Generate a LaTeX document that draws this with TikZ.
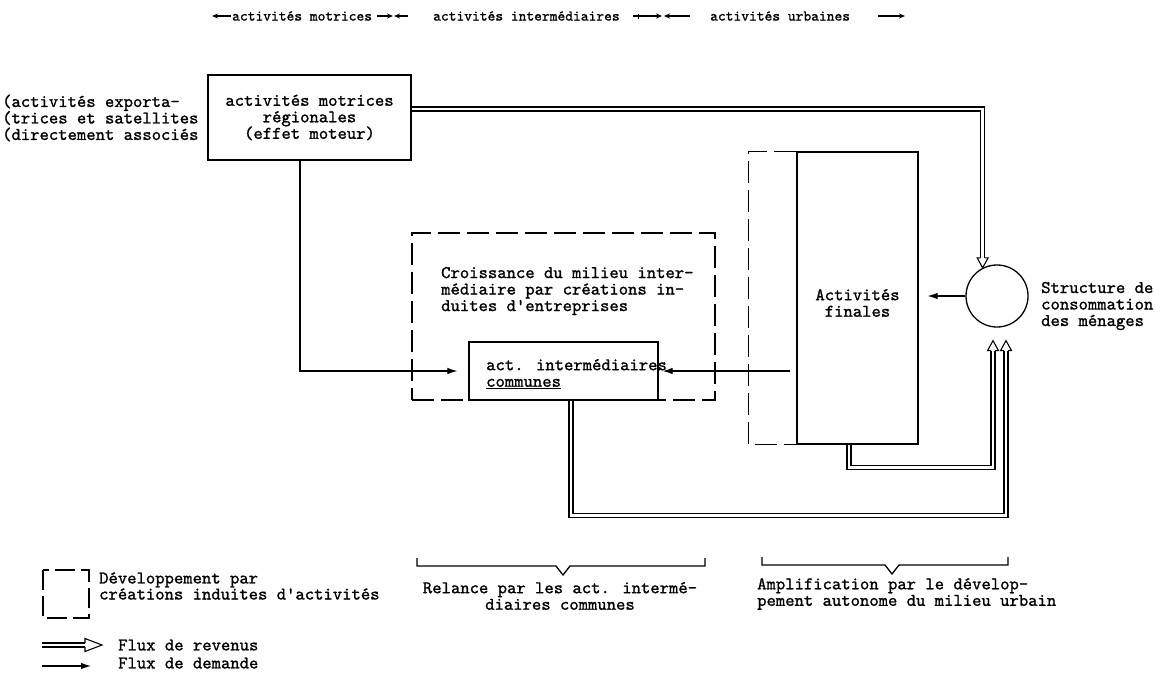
\documentclass[tikz,border=0pt]{standalone}
\usepackage{fontspec}
\usetikzlibrary{arrows.meta,calc}
\newfontfamily\twfont{lmmono10-regular.otf}[FakeBold=1.2]
\newcommand\bodyfont{\twfont\fontsize{17.8}{16.5}\selectfont}
\newcommand\legfont{\twfont\fontsize{17.8}{14}\selectfont}
\newcommand\hdrfont{\twfont\fontsize{14.8}{15}\selectfont}
% open arrow head for revenue (double) flows: #1 tip, #2 angle, #3 length, #4 half width
\newcommand\revhead[4]{%
  \draw[line width=1.1pt, fill=white, shift={#1}, rotate=#2]
    (-#3,2.0) -- (-#3,#4) -- (0,0) -- (-#3,-#4) -- (-#3,-2.0);}
\tikzset{
  txt/.style={inner sep=0pt, font=\bodyfont},
  hdr/.style={inner sep=0pt, font=\hdrfont},
  box/.style={draw, line width=1.3pt, inner sep=0pt},
  dbox/.style={draw, line width=1.2pt, dash pattern=on 22pt off 7pt},
  rev/.style={draw, double, double distance=2.8pt, line width=1.2pt},
  dem/.style={draw, line width=1.1pt, -{Latex[length=10pt,width=6.5pt]}},
  harr/.style={draw, line width=1.1pt, -{Stealth[length=6pt,width=5pt]}},
  brk/.style={draw, line width=1.3pt},
}
\begin{document}
\begin{tikzpicture}[x=1pt,y=-1pt]
\useasboundingbox (0,0) rectangle (1155,677);

% header
\node[hdr, anchor=west] (h1) at (232,16) {activités motrices};
\node[hdr, anchor=west] (h2) at (433,16) {activités intermédiaires};
\node[hdr, anchor=west] (h3) at (710,16) {activités urbaines};
\draw[harr] (231,16) -- (212,16);
\draw[harr] (377,16) -- (393,16);
\draw[harr] (408,16) -- (394,16);
\draw[harr] (633,16) -- (662,16);
\draw[line width=0.9pt] (638,14) -- (638,19);
\draw[harr] (690,16) -- (664,16);
\draw[harr] (878,16) -- (905,16);

% left text and motor box
\node[txt, anchor=west, align=left] (exp) at (2,118)
  {(activités exporta-\\(trices et satellites\\(directement associés};
\node[box, minimum width=203pt, minimum height=85pt, align=center, font=\bodyfont]
  (motr) at (309.5,117.5) {activités motrices\\régionales\\(effet moteur)};

% intermediate growth (dashed) and intermediate activities box
\node[dbox, minimum width=303pt, minimum height=167pt] (crois) at (563.5,316.5) {};
\node[txt, anchor=west, align=left] (croistxt) at (441,291)
  {Croissance du milieu inter-\\médiaire par créations in-\\duites d'entreprises};
\node[box, minimum width=189pt, minimum height=58pt] (inter) at (563.5,371) {};
\node[txt, anchor=west, align=left] (intertxt) at (486,374)
  {act. intermédiaires\\\underline{communes}};

% final activities
\node[box, minimum width=121pt, minimum height=292pt] (fin) at (857.5,298) {};
\node[txt, align=center] (fintxt) at (857.5,303) {Activités\\finales};
\draw[dbox] (fin.north west) -- ++(-48,0) |- (fin.south west);

% consumption structure
\node[draw, circle, line width=1.3pt, minimum size=62pt, inner sep=0pt] (cons) at (997,296) {};
\node[txt, anchor=west, align=left] (constxt) at (1041,306)
  {Structure de\\consommation\\des ménages};

% demand flows
\draw[dem, shorten >=11pt] ([xshift=-9.5pt]motr.south) |- (inter.west);
\draw[dem, shorten <=6pt, shorten >=4pt] (inter.east -| fin.west) -- (inter.east);
\draw[dem, shorten >=9pt] (cons.west) -- (cons.west -| fin.east);

% revenue flows
\coordinate (t1) at (cons.117);
\draw[rev, shorten >=10pt] ([yshift=8.5pt]motr.east) -| (t1);
\revhead{(t1)}{-90}{10}{5.5}
\coordinate (t3) at ([xshift=-4pt,yshift=-13pt]cons.south);
\coordinate (t2) at ([xshift=9pt,yshift=-13pt]cons.south);
\draw[rev, shorten >=10pt] ([xshift=-8.5pt]fin.south) -- ++(0,23) -| (t3);
\revhead{(t3)}{90}{10}{5.5}
\draw[rev, shorten >=10pt] ([xshift=7.5pt]inter.south) -- ++(0,115) -| (t2);
\revhead{(t2)}{90}{10}{5.5}

% brackets
\draw[brk] (417,558) -- (417,566) -- (556,566) -- (563,575) -- (570,566) -- (705,566) -- (705,558);
\node[txt, align=center] (rel) at (560,596)
  {Relance par les act. intermé-\\diaires communes};
\draw[brk] (762,557) -- (762,565) -- (885,565) -- (892,574) -- (899,565) -- (1008,565) -- (1008,557);
\node[txt, anchor=west, align=left] (amp) at (757,594)
  {Amplification par le dévelop-\\pement autonome du milieu urbain};

% legend
\draw[dbox, dash pattern=on 20pt off 6pt] (43,570) rectangle (89,618);
\node[txt, font=\legfont, anchor=west, align=left] (legtxt) at (99,586)
  {Développement par\\créations induites d'activités};
\coordinate (lr1) at (42,645);
\coordinate (lr2) at (102,645);
\draw[rev, shorten >=17pt] (lr1) -- (lr2);
\revhead{(lr2)}{0}{17}{6.5}
\node[txt, anchor=west] (lrev) at (118,645) {Flux de revenus};
\coordinate (ld1) at (42,666);
\coordinate (ld2) at (91,666);
\draw[dem] (ld1) -- (ld2);
\node[txt, anchor=west] (ldem) at (118,663) {Flux de demande};
\end{tikzpicture}
\end{document}
